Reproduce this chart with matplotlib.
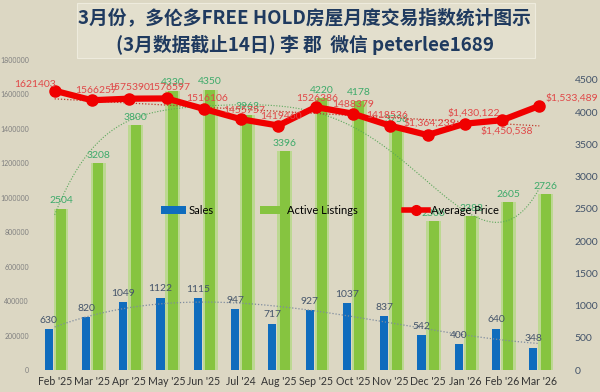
import numpy as np
import matplotlib
matplotlib.use("Agg")
import matplotlib.pyplot as plt
from matplotlib.patches import Rectangle, Patch
from matplotlib.lines import Line2D
from matplotlib.ticker import FuncFormatter

plt.rcParams['font.family'] = ['Lato', 'Noto Sans CJK SC', 'DejaVu Sans']

# 数据
months = ["Feb '25", "Mar '25", "Apr '25", "May '25", "Jun '25", "Jul '24", "Aug '25",
          "Sep '25", "Oct '25", "Nov '25", "Dec '25", "Jan '26", "Feb '26", "Mar '26"]
sales = [630, 820, 1049, 1122, 1115, 947, 717, 927, 1037, 837, 542, 400, 640, 348]
listings = [2504, 3208, 3800, 4330, 4350, 3963, 3396, 4220, 4178, 3756, 2306, 2388, 2605, 2726]
avg_price = [1621403, 1566257, 1575390, 1576597, 1516106, 1455757, 1419460,
             1526386, 1488379, 1418536, 1364239, 1430122, 1450538, 1533489]

# 价格标签的偏移(像素)
price_off = [(-20, 6), (4, 10), (0, 11), (3, 11), (3, 10), (3, 9), (3, 9),
             (2, 9), (0, 9), (-3, 10), (2, 12), (9, 11), (5, -11), (32, 8)]

bg = '#DCD7C3'
fig = plt.figure(figsize=(6, 3.92), dpi=100, facecolor=bg)

# 标题框
fig.patches.append(Rectangle((0.128, 0.852), 0.763, 0.14, transform=fig.transFigure,
                             facecolor='#E3DFCD', edgecolor='#EEEBDD', lw=0.8, zorder=0))
title_font = ['Noto Sans CJK SC', 'DejaVu Sans']
fig.text(0.508, 0.954, "3月份，多伦多FREE HOLD房屋月度交易指数统计图示", ha='center', va='center',
         fontsize=13.5, fontweight='bold', color='#1F3A5F', family=title_font)
fig.text(0.508, 0.885, "(3月数据截止14日) 李 郡  微信 peterlee1689", ha='center', va='center',
         fontsize=13.5, fontweight='bold', color='#1F3A5F', family=title_font)

ax = fig.add_axes([0.06, 0.056, 0.87, 0.791])
ax.set_facecolor('none')
x = np.arange(len(months))

# 柱子（右轴）
ax.bar(x + 0.17, listings, width=0.40, color='#B5D985', alpha=0.8, zorder=1)
ax.bar(x + 0.17, listings, width=0.27, color='#86C440', zorder=2)
ax.bar(x - 0.16, sales, width=0.22, color='#0F6CBD', zorder=3)
ax.set_ylim(0, 4810)
ax.set_xlim(-0.5, 13.5)
ax.set_yticks(range(0, 5000, 500))
ax.set_xticks(x)
ax.set_xticklabels(months, fontsize=7.6, color='#333333')
ax.tick_params(axis='x', length=0, pad=4)
for s in ax.spines.values():
    s.set_visible(False)

for i in range(len(x)):
    ax.annotate(str(sales[i]), (x[i] - 0.16, sales[i]), xytext=(0, 9), textcoords='offset pixels',
                ha='center', va='center', fontsize=7.5, color='#44546A', zorder=6)
    ax.annotate(str(listings[i]), (x[i] + 0.17, listings[i]), xytext=(0, 8), textcoords='offset pixels',
                ha='center', va='center', fontsize=7.5, color='#3DAA6A', zorder=6)

# 趋势线
xs = np.linspace(0, 13, 200)
ax.plot(xs, np.polyval(np.polyfit(x, listings, 5), xs), ls=(0, (1, 1.5)), color='#5BA85B', lw=0.8, zorder=4)
ax.plot(xs, np.polyval(np.polyfit(x, sales, 3), xs), ls=(0, (1, 1.5)), color='#7F8C9E', lw=0.9, zorder=4)

# 价格（左轴）
ax2 = ax.twinx()
ax.yaxis.tick_right()
ax.tick_params(axis='y', labelsize=7.5, labelcolor='#44546A', length=0, pad=12)
ax2.yaxis.tick_left()
ax2.set_ylim(0, 1800000)
ax2.set_yticks(range(0, 1800001, 200000))
ax2.yaxis.set_major_formatter(FuncFormatter(lambda v, p: '%d' % v))
ax2.tick_params(axis='y', labelsize=5, labelcolor='#7F7F7F', length=0, pad=5)
for s in ax2.spines.values():
    s.set_visible(False)
ax2.plot(x, np.polyval(np.polyfit(x, avg_price, 1), x), ls=(0, (1, 1.5)), color='#C0392B', lw=0.9, zorder=2)
ax2.plot(x, avg_price, color='#F00000', lw=4.5, marker='o', ms=8, zorder=3)
for i in range(len(x)):
    lab = str(avg_price[i]) if i < 10 else "${:,}".format(avg_price[i])
    ax2.annotate(lab, (x[i], avg_price[i]), xytext=price_off[i], textcoords='offset pixels',
                 ha='center', va='center', fontsize=7.5, color='#E04848', zorder=6)

handles = [Patch(facecolor='#0F6CBD'), Patch(facecolor='#86C440'),
           Line2D([], [], color='#F00000', lw=4, marker='o', ms=7)]
ax2.legend(handles, ['Sales', 'Active Listings', 'Average Price'], ncol=3, frameon=False,
           loc='center', bbox_to_anchor=(0.55, 0.464), bbox_transform=fig.transFigure,
           fontsize=8, columnspacing=4.2, handlelength=2.2, handletextpad=0.2)

fig.savefig('out.png', dpi=100, facecolor=bg)
